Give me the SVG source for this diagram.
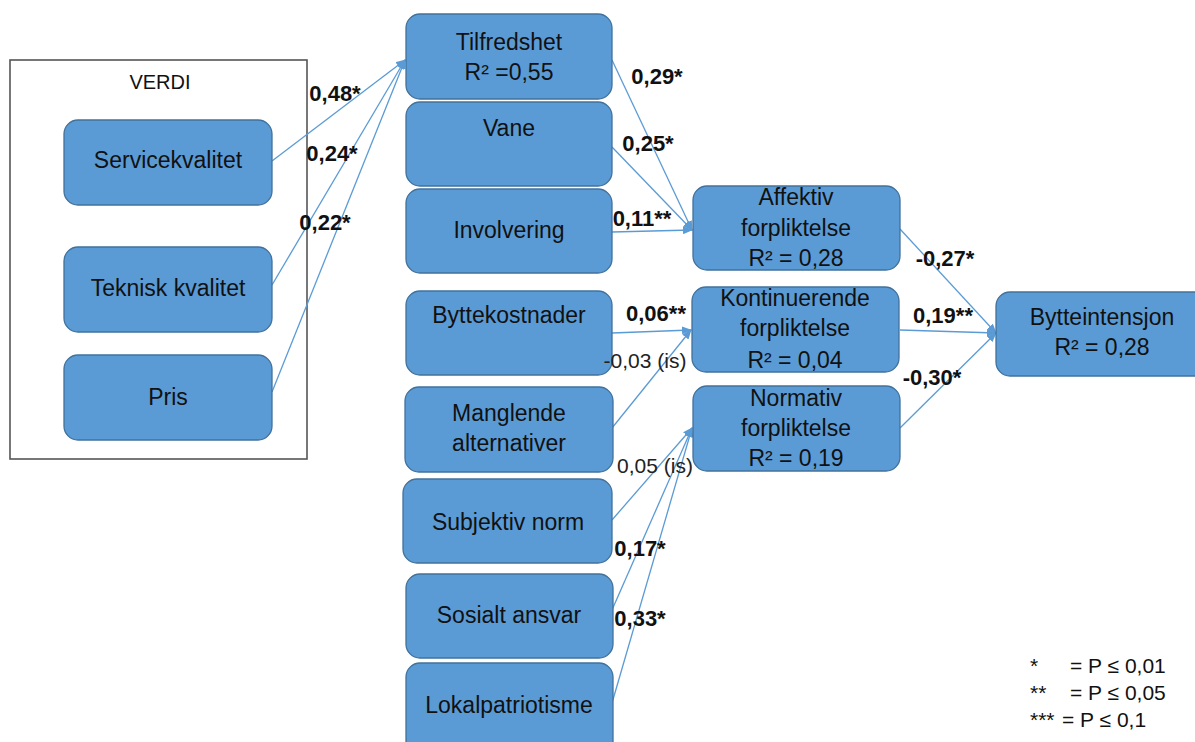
<svg xmlns="http://www.w3.org/2000/svg" width="1195" height="742" viewBox="0 0 1195 742">
<style>
.box{fill:#5B9BD5;stroke:#41719C;stroke-width:1.3}
.t{font-family:"Liberation Sans",Arial,sans-serif;font-size:23px;fill:#111;text-anchor:middle}
.b{font-family:"Liberation Sans",Arial,sans-serif;font-size:22px;font-weight:bold;fill:#111;text-anchor:middle}
.n{font-family:"Liberation Sans",Arial,sans-serif;font-size:21px;fill:#222;text-anchor:middle}
.lg{font-family:"Liberation Sans",Arial,sans-serif;font-size:21px;fill:#111}
.c{stroke:#5B9BD5;stroke-width:1.3;fill:none;marker-end:url(#ah)}
</style>
<defs>
<marker id="ah" markerWidth="10" markerHeight="8" refX="9" refY="4" orient="auto" markerUnits="userSpaceOnUse">
<path d="M0,0 L10,4 L0,8 z" fill="#5B9BD5"/>
</marker>
</defs>
<rect width="1195" height="742" fill="#fff"/>
<g id="verdi">
<rect x="10" y="60" width="297" height="399" fill="none" stroke="#555" stroke-width="1.6"/>
<text class="t" x="160" y="89" style="font-size:20px">VERDI</text>
</g>
<g id="connectors">
<line class="c" x1="272" y1="161" x2="405" y2="60"/>
<line class="c" x1="272" y1="285" x2="405" y2="60"/>
<line class="c" x1="272" y1="392" x2="405" y2="60"/>
<line class="c" x1="612" y1="60" x2="692" y2="230"/>
<line class="c" x1="612" y1="147" x2="692" y2="230"/>
<line class="c" x1="612" y1="232" x2="692" y2="230"/>
<line class="c" x1="612" y1="333" x2="691" y2="330"/>
<line class="c" x1="612" y1="428" x2="691" y2="330"/>
<line class="c" x1="612" y1="520" x2="692" y2="428"/>
<line class="c" x1="612" y1="610" x2="692" y2="428"/>
<line class="c" x1="612" y1="703" x2="692" y2="428"/>
<line class="c" x1="900" y1="229" x2="996" y2="333"/>
<line class="c" x1="900" y1="330" x2="996" y2="333"/>
<line class="c" x1="900" y1="428" x2="996" y2="333"/>
</g>
<g id="servicekvalitet"><rect class="box" x="64" y="120" width="208" height="85" rx="14"/><text class="t" x="168" y="168">Servicekvalitet</text></g>
<g id="teknisk"><rect class="box" x="64" y="247" width="208" height="85" rx="14"/><text class="t" x="168" y="296">Teknisk kvalitet</text></g>
<g id="pris"><rect class="box" x="64" y="355" width="208" height="85" rx="14"/><text class="t" x="168" y="405">Pris</text></g>
<g id="tilfredshet"><rect class="box" x="406" y="14" width="206" height="85" rx="14"/><text class="t" x="509" y="50">Tilfredshet</text><text class="t" x="509" y="80">R² =0,55</text></g>
<g id="vane"><rect class="box" x="406" y="102" width="206" height="84" rx="14"/><text class="t" x="509" y="136">Vane</text></g>
<g id="involvering"><rect class="box" x="406" y="189" width="206" height="84" rx="14"/><text class="t" x="509" y="238">Involvering</text></g>
<g id="byttekostnader"><rect class="box" x="406" y="291" width="206" height="84" rx="14"/><text class="t" x="509" y="323">Byttekostnader</text></g>
<g id="manglende"><rect class="box" x="405" y="387" width="208" height="85" rx="14"/><text class="t" x="509" y="421">Manglende</text><text class="t" x="509" y="451">alternativer</text></g>
<g id="subjektiv"><rect class="box" x="403" y="479" width="209" height="84" rx="14"/><text class="t" x="508" y="530">Subjektiv norm</text></g>
<g id="sosialt"><rect class="box" x="406" y="574" width="207" height="84" rx="14"/><text class="t" x="509" y="623">Sosialt ansvar</text></g>
<g id="lokalpatriotisme"><rect class="box" x="406" y="663" width="207" height="95" rx="14"/><text class="t" x="509" y="713">Lokalpatriotisme</text></g>
<g id="affektiv"><rect class="box" x="693" y="186" width="207" height="84" rx="14"/><text class="t" x="796" y="205">Affektiv</text><text class="t" x="796" y="236">forpliktelse</text><text class="t" x="796" y="266">R² = 0,28</text></g>
<g id="kontinuerende"><rect class="box" x="692" y="287" width="207" height="85" rx="14"/><text class="t" x="795" y="306">Kontinuerende</text><text class="t" x="795" y="336">forpliktelse</text><text class="t" x="795" y="368">R² = 0,04</text></g>
<g id="normativ"><rect class="box" x="693" y="386" width="207" height="85" rx="14"/><text class="t" x="796" y="406">Normativ</text><text class="t" x="796" y="436">forpliktelse</text><text class="t" x="796" y="466">R² = 0,19</text></g>
<g id="bytteintensjon"><rect class="box" x="996" y="292" width="215" height="84" rx="14"/><text class="t" x="1102" y="325">Bytteintensjon</text><text class="t" x="1102" y="355">R² = 0,28</text></g>
<g id="labels">
<text class="b" x="335" y="101">0,48*</text>
<text class="b" x="332" y="161">0,24*</text>
<text class="b" x="325" y="230">0,22*</text>
<text class="b" x="657" y="84">0,29*</text>
<text class="b" x="648" y="151">0,25*</text>
<text class="b" x="642" y="226">0,11**</text>
<text class="b" x="656" y="321">0,06**</text>
<text class="n" x="645" y="368">-0,03 (is)</text>
<text class="n" x="655" y="473">0,05 (is)</text>
<text class="b" x="640" y="556">0,17*</text>
<text class="b" x="640" y="626">0,33*</text>
<text class="b" x="945" y="266">-0,27*</text>
<text class="b" x="943" y="323">0,19**</text>
<text class="b" x="932" y="385">-0,30*</text>
</g>
<g id="legend">
<text class="lg" x="1030" y="673">*</text><text class="lg" x="1070" y="673">= P ≤ 0,01</text>
<text class="lg" x="1030" y="700">**</text><text class="lg" x="1070" y="700">= P ≤ 0,05</text>
<text class="lg" x="1030" y="727">***</text><text class="lg" x="1062" y="727">= P ≤ 0,1</text>
</g>
</svg>
